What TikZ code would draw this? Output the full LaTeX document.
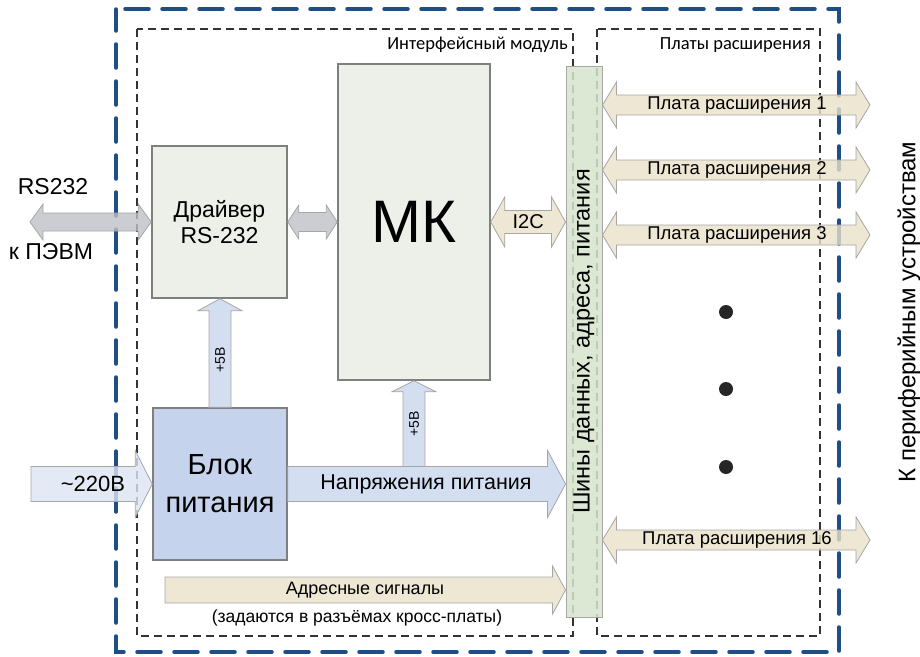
\documentclass[tikz,border=0pt]{standalone}
\usepackage{fontspec}
\setmainfont{Liberation Sans}
\newfontfamily\calfont{Carlito}
\usetikzlibrary{calc}
\definecolor{outerblue}{HTML}{1F4E86}
\definecolor{boxgray}{HTML}{7F7F7F}
\definecolor{lightbox}{HTML}{EDF0E9}
\definecolor{pwrblue}{HTML}{C6D3EC}
\definecolor{busgreen}{HTML}{D6E3CC}
\definecolor{arrgray}{HTML}{BFC0C8}
\definecolor{beige}{HTML}{E9E1C8}
\definecolor{arrblue}{HTML}{C9D6EE}
\definecolor{lblue}{HTML}{DDE5F3}
\definecolor{arredge}{HTML}{A6A6A6}
\definecolor{dotcol}{HTML}{262626}
\newcommand\fs[2]{\fontsize{#1}{#2}\selectfont}
% double horizontal block arrow
\newcommand\dblarrow[6]{\path[#1] let \p1=#2, \p2=#3 in (\x1,\y1) -- (\x1+#6,\y1+#5) -- (\x1+#6,\y1+#4) -- (\x2-#6,\y1+#4) -- (\x2-#6,\y1+#5) -- (\x2,\y1) -- (\x2-#6,\y1-#5) -- (\x2-#6,\y1-#4) -- (\x1+#6,\y1-#4) -- (\x1+#6,\y1-#5) -- cycle;}
% single right block arrow
\newcommand\rarrow[6]{\path[#1] let \p1=#2, \p2=#3 in (\x1,\y1+#4) -- (\x2-#6,\y1+#4) -- (\x2-#6,\y1+#5) -- (\x2,\y1) -- (\x2-#6,\y1-#5) -- (\x2-#6,\y1-#4) -- (\x1,\y1-#4) -- cycle;}
% single up block arrow
\newcommand\uarrow[6]{\path[#1] let \p1=#2, \p2=#3 in (\x1+#4,\y1) -- (\x1+#4,\y2-#6) -- (\x1+#5,\y2-#6) -- (\x1,\y2) -- (\x1-#5,\y2-#6) -- (\x1-#4,\y2-#6) -- (\x1-#4,\y1) -- cycle;}
\tikzset{
  box/.style={draw=boxgray, line width=1.5pt, inner sep=0pt, align=center},
  arr/.style={draw=arredge, line width=0.8pt, fill opacity=0.8},
  outerdash/.style={draw=outerblue, line width=3.5pt, line cap=round, dash pattern=on 24pt off 13pt, dash phase=28pt},
  innerdash/.style={draw=black!80, line width=1.1pt, dash pattern=on 8pt off 5pt},
  lbl/.style={inner sep=0pt, text=black, align=center},
  dotmark/.style={circle, fill=dotcol, minimum size=14pt, inner sep=0pt}
}
\begin{document}
\begin{tikzpicture}[x=1pt,y=-1pt]
\useasboundingbox (0,0) rectangle (920,656);
% frames
\draw[outerdash] (116,9) -- (839,9) -- (839,652) -- (116,652) -- cycle;
\draw[innerdash] (137,29) rectangle (573,636);
\draw[innerdash] (597,29) rectangle (820,636);
\node[lbl, anchor=east, font=\calfont\fs{18.5}{22}] (lim) at (568,45) {Интерфейсный модуль};
\node[lbl, anchor=east, font=\calfont\fs{18.5}{22}] (lpr) at (811,45) {Платы расширения};
% blocks
\node[box, fill=lightbox, minimum width=135pt, minimum height=152pt, font=\fs{23}{26}] (drv) at (219.5,222) {Драйвер\\RS-232};
\node[box, fill=lightbox, minimum width=152pt, minimum height=316pt, font=\fs{60}{60}] (mk) at (414,222) {МК};
\node[box, fill=pwrblue, minimum width=134pt, minimum height=152pt, font=\fs{29}{38}] (pwr) at (220,484) {Блок\\питания};
\node[box, draw=arredge, line width=1pt, fill=busgreen, fill opacity=0.85, text opacity=1, minimum width=36pt, minimum height=551pt] (bus) at (584,341.5) {};
\node[lbl, rotate=90, font=\fs{23.5}{27}] (bust) at (bus.center) {Шины данных, адреса, питания};
% coordinates for free ends
\coordinate (pc) at (30,222);
\coordinate (ac) at (31,484);
\coordinate (adr) at (165,590);
\coordinate (mkb) at (414,466.5);
\coordinate (b1) at (870,105);
\coordinate (b2) at (870,170);
\coordinate (b3) at (870,235);
\coordinate (b16) at (870,540);
% connectors
\dblarrow{arr, fill=arrgray}{(pc)}{(drv.west)}{9pt}{18pt}{13pt}
\dblarrow{arr, fill=arrgray}{(drv.east)}{(mk.west)}{9.5pt}{17pt}{11pt}
\dblarrow{arr, fill=beige}{(mk.east)}{(bus.west |- mk.east)}{11.5pt}{25pt}{14pt}
\rarrow{arr, fill=lblue}{(ac)}{(pwr.west)}{17.5pt}{33.5pt}{17pt}
\rarrow{arr, fill=arrblue}{(pwr.east)}{(bus.west |- pwr.east)}{17.5pt}{33.5pt}{18pt}
\uarrow{arr, fill=arrblue}{(pwr.north)}{(pwr.north |- drv.south)}{11pt}{22pt}{12pt}
\uarrow{arr, fill=arrblue}{(mkb)}{(mk.south)}{11pt}{22pt}{11pt}
\rarrow{arr, fill=beige}{(adr)}{(bus.west |- adr)}{13pt}{24pt}{13pt}
\dblarrow{arr, fill=beige}{(bus.east |- b1)}{(b1)}{10pt}{23pt}{14pt}
\dblarrow{arr, fill=beige}{(bus.east |- b2)}{(b2)}{10pt}{23pt}{14pt}
\dblarrow{arr, fill=beige}{(bus.east |- b3)}{(b3)}{10pt}{23pt}{14pt}
\dblarrow{arr, fill=beige}{(bus.east |- b16)}{(b16)}{10pt}{23pt}{14pt}
% arrow labels
\node[lbl, font=\fs{23}{27}] (trs) at (53,187) {RS232};
\node[lbl, font=\fs{23}{27}] (tpc) at (51,252) {к ПЭВМ};
\node[lbl, font=\fs{22}{26}] (t220) at (93,484) {\textasciitilde 220В};
\node[lbl, font=\fs{20}{24}] (ti2c) at ($(mk.east)!0.5!(bus.west |- mk.east)$) {I2C};
\node[lbl, font=\fs{21.5}{26}] (tnp) at (426,484) {Напряжения питания};
\node[lbl, rotate=90, font=\fs{14}{17}] (t5a) at (220,360) {+5В};
\node[lbl, rotate=90, font=\fs{14}{17}] (t5b) at (414,424) {+5В};
\node[lbl, font=\fs{18}{22}] (tad) at (365,590) {Адресные сигналы};
\node[lbl, font=\fs{17.5}{21}] (tad2) at (357,618) {(задаются в разъёмах кросс-платы)};
\node[lbl, font=\fs{18.5}{22}] (tb1) at (737,105) {Плата расширения 1};
\node[lbl, font=\fs{18.5}{22}] (tb2) at (737,170) {Плата расширения 2};
\node[lbl, font=\fs{18.5}{22}] (tb3) at (737,235) {Плата расширения 3};
\node[lbl, font=\fs{18.5}{22}] (tb16) at (737,540) {Плата расширения 16};
% dots
\node[dotmark] (d1) at (726,312) {};
\node[dotmark] (d2) at (726,389) {};
\node[dotmark] (d3) at (726,467) {};
% right label
\node[lbl, rotate=90, font=\fs{24}{28}] (tper) at (909,312) {К периферийным устройствам};
\end{tikzpicture}
\end{document}
